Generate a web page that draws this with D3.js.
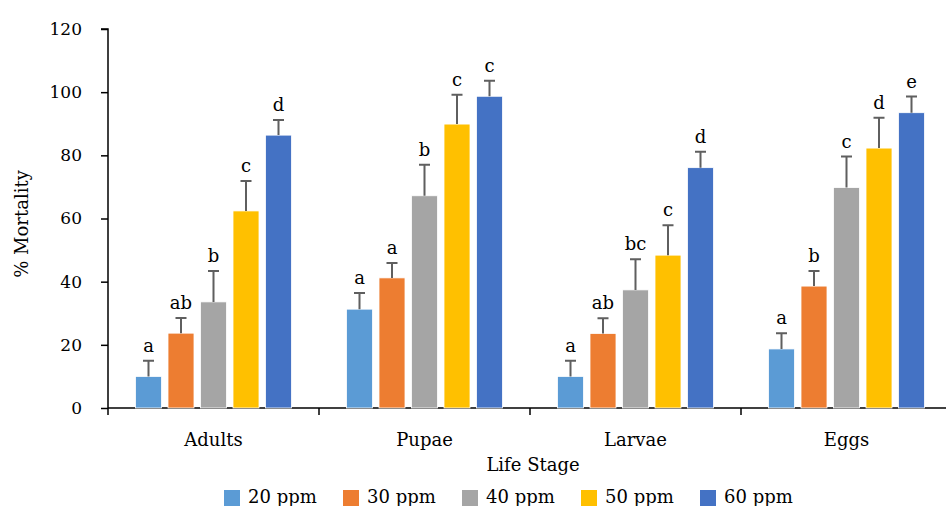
<!DOCTYPE html>
<html>
<head>
<meta charset="utf-8">
<script src="https://cdn.jsdelivr.net/npm/d3@7"></script>
<style>
  body { margin: 0; background: #fff; }
  svg text { font-family: "DejaVu Serif", serif; fill: #000; }
</style>
</head>
<body>
<svg id="chart" width="946" height="506"></svg>
<script>
// data
const stages = ["Adults", "Pupae", "Larvae", "Eggs"]
const doses = ["20 ppm", "30 ppm", "40 ppm", "50 ppm", "60 ppm"]
const colors = ["#5B9BD5", "#ED7D31", "#A5A5A5", "#FFC000", "#4472C4"]

// mortality per dose, one value per stage
const mort20 = [10, 31.3, 10, 18.7]
const mort30 = [23.7, 41.2, 23.6, 38.6]
const mort40 = [33.6, 67.2, 37.4, 69.8]
const mort50 = [62.4, 89.9, 48.4, 82.3]
const mort60 = [86.4, 98.7, 76.1, 93.5]

// standard error (upper whisker)
const err20 = [5, 5.1, 5, 5]
const err30 = [4.8, 4.7, 4.8, 4.8]
const err40 = [9.8, 9.8, 9.7, 9.8]
const err50 = [9.5, 9.3, 9.5, 9.6]
const err60 = [4.8, 4.9, 5, 5.1]

// letter groupings
const let20 = ["a", "a", "a", "a"]
const let30 = ["ab", "a", "ab", "b"]
const let40 = ["b", "b", "bc", "c"]
const let50 = ["c", "c", "c", "d"]
const let60 = ["d", "c", "d", "e"]

const yTicks = [0, 20, 40, 60, 80, 100, 120]

const mortAll = [mort20, mort30, mort40, mort50, mort60]
const errAll = [err20, err30, err40, err50, err60]
const letAll = [let20, let30, let40, let50, let60]

const svg = d3.select("#chart")
const FONT = "'DejaVu Serif', serif"

const mLeft = 108, mRight = 952, mTop = 29, mBottom = 408

let x0 = d3.scaleBand()
  .domain(stages)
  .range([mLeft, mRight])

let x1 = d3.scaleBand()
  .domain(doses)
  .range([0, 162.5])
  .paddingInner(0.2)
  .paddingOuter(0.1)

let y = d3.scaleLinear()
  .domain([0, 120])
  .range([mBottom, mTop])

// y axis
let yAxis = svg.append("g")
  .attr("transform", `translate(${mLeft},0)`)
  .call(d3.axisLeft(y).tickValues(yTicks).tickSize(7).tickPadding(19))
  .attr("font-family", FONT)
yAxis.select(".domain").attr("stroke", "#000").attr("stroke-width", 1.5)
  .attr("d", `M-7,${mTop}H0V${mBottom}`)
yAxis.selectAll(".tick line").attr("stroke", "#000").attr("stroke-width", 1.5)
yAxis.selectAll(".tick text")
  .style("font-size", "17px")
  .style("font-family", FONT)

// x axis with boundary ticks
let xg = svg.append("g")
xg.append("line")
  .attr("x1", mLeft).attr("x2", mRight)
  .attr("y1", mBottom).attr("y2", mBottom)
  .attr("stroke", "#000").attr("stroke-width", 1.5)
xg.selectAll("line.sep")
  .data(stages)
  .enter().append("line")
  .attr("class", "sep")
  .attr("x1", d => x0(d)).attr("x2", d => x0(d))
  .attr("y1", mBottom).attr("y2", mBottom + 7)
  .attr("stroke", "#000").attr("stroke-width", 1.5)
xg.selectAll("text")
  .data(stages)
  .enter().append("text")
  .attr("x", d => x0(d) + x0.bandwidth() / 2)
  .attr("y", 446)
  .attr("text-anchor", "middle")
  .style("font-size", "18px")
  .text(d => d)

// bars
const groupOff = (x0.bandwidth() - 162.5) / 2

doses.forEach((dose, i) => {
  let rows = stages.map((s, j) => ({
    stage: s,
    v: mortAll[i][j],
    e: errAll[i][j],
    l: letAll[i][j]
  }))
  let g = svg.append("g")
  let bx = d => x0(d.stage) + groupOff + x1(dose)
  let bw = x1.bandwidth()

  g.selectAll("rect")
    .data(rows)
    .enter().append("rect")
    .attr("x", d => bx(d))
    .attr("y", d => y(d.v))
    .attr("width", bw)
    .attr("height", d => y(0) - y(d.v))
    .attr("fill", colors[i])
    .attr("stroke", "#fff")
    .attr("stroke-width", 0.8)

  // upper error whisker
  g.selectAll("path.err")
    .data(rows)
    .enter().append("path")
    .attr("class", "err")
    .attr("d", d => {
      let cx = bx(d) + bw / 2
      return `M${cx},${y(d.v)}V${y(d.v + d.e)}M${cx - 5.5},${y(d.v + d.e)}H${cx + 5.5}`
    })
    .attr("stroke", "#5f5f5f")
    .attr("stroke-width", 2)
    .attr("fill", "none")

  g.selectAll("text")
    .data(rows)
    .enter().append("text")
    .attr("x", d => bx(d) + bw / 2)
    .attr("y", d => y(d.v + d.e) - 9)
    .attr("text-anchor", "middle")
    .style("font-size", "18px")
    .text(d => d.l)
})

// axis titles
svg.append("text")
  .attr("transform", "translate(28,224) rotate(-90)")
  .attr("text-anchor", "middle")
  .style("font-size", "18px")
  .text("% Mortality")

svg.append("text")
  .attr("x", 533)
  .attr("y", 471)
  .attr("text-anchor", "middle")
  .style("font-size", "18px")
  .text("Life Stage")

// legend
let legend = svg.append("g")
let lx = d3.scaleBand().domain(doses).range([224, 819])
let items = legend.selectAll("g")
  .data(doses)
  .enter().append("g")
  .attr("transform", d => `translate(${lx(d)},490)`)
items.append("rect")
  .attr("width", 16).attr("height", 16)
  .attr("fill", (d, i) => colors[i])
items.append("text")
  .attr("x", 24).attr("y", 13)
  .style("font-size", "18px")
  .text(d => d)
</script>
</body>
</html>
